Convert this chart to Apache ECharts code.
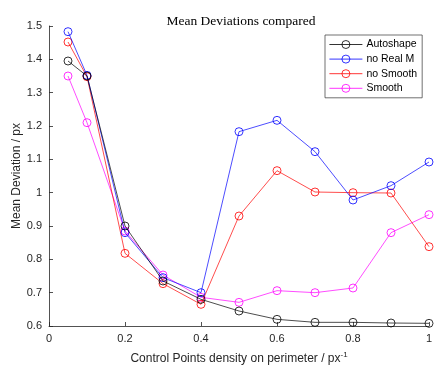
<!DOCTYPE html>
<html><head><meta charset="utf-8">
<script src="https://cdn.jsdelivr.net/npm/echarts@6/dist/echarts.min.js"></script>
<style>html,body{margin:0;padding:0;background:#fff}#c{width:435px;height:367px}</style>
</head><body><div id="c"></div>
<script>
const xValues = [0.05, 0.1, 0.2, 0.3, 0.4, 0.5, 0.6, 0.7, 0.8, 0.9, 1.0];
const autoshape = [1.395, 1.35, 0.90, 0.735, 0.68, 0.645, 0.62, 0.611, 0.611, 0.609, 0.608];
const noRealM = [1.483, 1.352, 0.88, 0.745, 0.70, 1.183, 1.217, 1.123, 0.978, 1.021, 1.092];
const noSmooth = [1.452, 1.348, 0.818, 0.727, 0.665, 0.93, 1.066, 1.002, 1.0, 0.999, 0.838];
const smooth = [1.35, 1.21, 0.885, 0.753, 0.686, 0.671, 0.706, 0.70, 0.714, 0.88, 0.934];
const seriesNames = ['Autoshape', 'no Real M', 'no Smooth', 'Smooth'];
const seriesColors = ['#000000', '#0000ff', '#ff0000', '#ff00ff'];
const seriesData = [autoshape, noRealM, noSmooth, smooth];

const chart = echarts.init(document.getElementById('c'), null, {renderer: 'canvas'});
const font = 'Liberation Sans, Arial, Helvetica, sans-serif';
chart.setOption({
  animation: false,
  backgroundColor: '#fff',
  title: {
    text: 'Mean Deviations compared',
    left: 236, top: 9, textAlign: 'center',
    textStyle: {fontFamily: 'Liberation Serif, Times New Roman, serif', fontWeight: 'normal', fontSize: 13.5, color: '#000'}
  },
  legend: {
    orient: 'vertical',
    left: 325, top: 35,
    padding: [4, 5, 4, 4],
    itemWidth: 33, itemHeight: 10, itemGap: 3.6,
    backgroundColor: '#fff',
    borderColor: '#333', borderWidth: 0.7,
    lineStyle: {width: 0.8},
    itemStyle: {borderWidth: 0.8},
    textStyle: {fontFamily: font, fontSize: 10.5, color: '#000', padding: [0, 0, 0, -1]},
    data: seriesNames
  },
  grid: {left: 49, right: 6, top: 26, bottom: 41, containLabel: false, outerBoundsMode: 'none'},
  xAxis: {
    type: 'value', min: 0, max: 1, interval: 0.2,
    name: 'Control Points density on perimeter / px{sup|-1}',
    nameLocation: 'middle', nameGap: 25, nameMoveOverlap: false,
    nameTextStyle: {fontFamily: font, fontSize: 12, color: '#262626',
      rich: {sup: {fontFamily: font, fontSize: 8, color: '#262626', verticalAlign: 'top', padding: [0, 0, 8, 0]}}},
    axisLine: {lineStyle: {color: '#262626', width: 0.8}},
    axisTick: {inside: true, length: 4, lineStyle: {color: '#262626', width: 0.8}},
    axisLabel: {fontFamily: font, fontSize: 11, color: '#262626', margin: 7},
    splitLine: {show: false}
  },
  yAxis: {
    type: 'value', min: 0.6, max: 1.5, interval: 0.1,
    name: 'Mean Deviation / px',
    nameLocation: 'middle', nameGap: 26, nameMoveOverlap: false,
    nameTextStyle: {fontFamily: font, fontSize: 12, color: '#262626'},
    axisLine: {show: true, lineStyle: {color: '#262626', width: 0.8}},
    axisTick: {show: true, inside: true, length: 4, lineStyle: {color: '#262626', width: 0.8}},
    axisLabel: {fontFamily: font, fontSize: 11, color: '#262626', margin: 7,
      formatter: (v) => String(Math.round(v * 10) / 10)},
    splitLine: {show: false}
  },
  series: seriesNames.map((n, i) => ({
    name: n, type: 'line',
    data: xValues.map((x, j) => [x, seriesData[i][j]]),
    symbol: 'circle', symbolSize: 8, showSymbol: true,
    lineStyle: {color: seriesColors[i], width: 0.7},
    itemStyle: {color: 'rgba(0,0,0,0)', borderColor: seriesColors[i], borderWidth: 0.8},
    emphasis: {disabled: true},
    z: 4 - i
  }))
});
</script></body></html>
